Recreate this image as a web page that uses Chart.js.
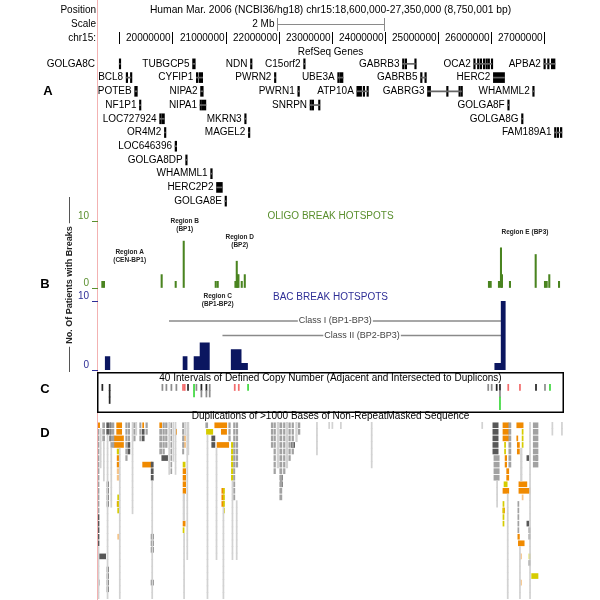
<!DOCTYPE html>
<html>
<head>
<meta charset="utf-8">
<title>chr15 breakpoint hotspots</title>
<script src="https://cdn.jsdelivr.net/npm/chart.js@4.4.0/dist/chart.umd.min.js"></script>
<style>
  html, body { margin: 0; padding: 0; background: #fff; }
  #wrap { position: relative; width: 600px; height: 600px; overflow: hidden; }
  #wrap canvas { position: absolute; left: 0; top: 0; }
  #labelLine { position: absolute; left: 97px; top: 0; width: 1px; height: 600px; background: #f3b2b2; }
</style>
</head>
<body>
<div id="wrap">
  <div id="labelLine"></div>
  <canvas id="genes" width="600" height="600"></canvas>
  <canvas id="oligo" width="600" height="600"></canvas>
  <canvas id="bac" width="600" height="600"></canvas>
  <canvas id="cnv" width="600" height="600"></canvas>
  <canvas id="dups" width="600" height="600"></canvas>
</div>
<script>
// --- 1. DATA (positions in Mb on chr15, hg18) ---
const viewStart = 18.6, viewEnd = 27.35;
const rulerTicks = [19, 20, 21, 22, 23, 24, 25, 26, 27];
const scaleBarMb = 2;

// RefSeq genes: one entry per label, row = packing line of the track
const geneNames = ['GOLGA8C', 'TUBGCP5', 'NDN', 'C15orf2', 'GABRB3', 'OCA2', 'APBA2',
  'BCL8', 'CYFIP1', 'PWRN2', 'UBE3A', 'GABRB5', 'HERC2',
  'POTEB', 'NIPA2', 'PWRN1', 'ATP10A', 'GABRG3', 'WHAMML2',
  'NF1P1', 'NIPA1', 'SNRPN', 'GOLGA8F',
  'LOC727924', 'MKRN3', 'GOLGA8G',
  'OR4M2', 'MAGEL2', 'FAM189A1',
  'LOC646396', 'GOLGA8DP', 'WHAMML1', 'HERC2P2', 'GOLGA8E'];
const geneRows = [0, 0, 0, 0, 0, 0, 0, 1, 1, 1, 1, 1, 1, 2, 2, 2, 2, 2, 2,
  3, 3, 3, 3, 4, 4, 4, 5, 5, 5, 6, 7, 8, 9, 10];
const geneStarts = [19.00, 20.38, 21.47, 22.47, 24.33, 25.67, 26.99,
  19.13, 20.45, 21.92, 23.11, 24.67, 26.04,
  19.29, 20.53, 22.36, 23.47, 24.80, 26.78,
  19.38, 20.52, 22.59, 26.31,
  19.76, 21.36, 26.57,
  19.85, 21.43, 27.19,
  20.05, 20.25, 20.72, 20.83, 20.99];
const geneEnds = [19.02, 20.43, 21.48, 22.48, 24.57, 26.01, 27.20,
  19.22, 20.57, 21.93, 23.21, 24.77, 26.25,
  19.34, 20.58, 22.39, 23.68, 25.44, 26.80,
  19.40, 20.63, 22.77, 26.33,
  19.85, 21.37, 26.59,
  19.86, 21.44, 27.33,
  20.08, 20.27, 20.75, 20.94, 21.01];
// exon blocks: [row, start, end]
const geneExons = [
  [0, 19.00, 19.02], [0, 20.38, 20.43], [0, 21.47, 21.48], [0, 22.47, 22.48],
  [0, 24.33, 24.36], [0, 24.38, 24.39], [0, 24.56, 24.57],
  [0, 25.67, 25.69], [0, 25.74, 25.76], [0, 25.79, 25.82], [0, 25.85, 25.88], [0, 25.90, 25.92], [0, 25.94, 25.96], [0, 26.00, 26.01],
  [0, 26.99, 27.00], [0, 27.06, 27.07], [0, 27.13, 27.20],
  [1, 19.13, 19.14], [1, 19.21, 19.22], [1, 20.45, 20.46], [1, 20.50, 20.57], [1, 21.92, 21.93],
  [1, 23.11, 23.12], [1, 23.15, 23.21], [1, 24.67, 24.69], [1, 24.75, 24.77], [1, 26.04, 26.25],
  [2, 19.29, 19.34], [2, 20.53, 20.58], [2, 22.36, 22.39], [2, 23.47, 23.56], [2, 23.59, 23.60], [2, 23.66, 23.68],
  [2, 24.80, 24.81], [2, 24.83, 24.84], [2, 25.16, 25.17], [2, 25.39, 25.40], [2, 25.43, 25.44], [2, 26.78, 26.80],
  [3, 19.38, 19.40], [3, 20.52, 20.53], [3, 20.56, 20.63], [3, 22.59, 22.60], [3, 22.63, 22.64], [3, 22.75, 22.77], [3, 26.31, 26.33],
  [4, 19.76, 19.78], [4, 19.80, 19.85], [4, 21.36, 21.37], [4, 26.57, 26.59],
  [5, 19.85, 19.86], [5, 21.43, 21.44], [5, 27.19, 27.21], [5, 27.24, 27.25], [5, 27.30, 27.33],
  [6, 20.05, 20.08], [7, 20.25, 20.27], [8, 20.72, 20.75], [9, 20.83, 20.94], [10, 20.99, 21.01]
];

// oligo array CGH: patients with a break at each probe position
const oligoPos = [18.682, 18.712, 19.798, 20.062, 20.213, 20.815, 20.853, 21.186, 21.211, 21.224, 21.243, 21.305, 21.362,
  25.957, 25.989, 26.145, 26.183, 26.202, 26.352, 26.836, 27.011, 27.043, 27.092, 27.275];
const oligoCount = [1, 1, 2, 1, 7, 1, 1, 1, 4, 2, 2, 1, 2,
  1, 1, 1, 6, 2, 1, 5, 1, 1, 2, 1];

// BAC array CGH: break counts per BAC interval
const bacStart = [18.73, 20.194, 20.401, 20.514, 21.10, 21.30, 26.06, 26.18];
const bacEnd = [18.83, 20.283, 20.514, 20.702, 21.30, 21.42, 26.18, 26.27];
const bacCount = [2, 2, 2, 4, 3, 1, 1, 10];

// deletion classes
const classNames = ['Class I (BP1-BP3)', 'Class II (BP2-BP3)'];
const classStart = [19.936, 20.942];
const classEnd = [26.196, 26.196];

// intervals of defined copy number: [start, end, rowFrom, rowTo, kind]
const cnvIntervals = [
  [18.672, 18.692, 0, 0, 'k'], [18.809, 18.829, 0, 2, 'k'],
  [19.802, 19.822, 0, 0, 'g'], [19.877, 19.897, 0, 0, 'g'], [19.971, 19.991, 0, 0, 'g'], [20.065, 20.085, 0, 0, 'g'],
  [20.190, 20.210, 0, 0, 'r'], [20.222, 20.242, 0, 0, 'r'], [20.284, 20.304, 0, 0, 'k'],
  [20.397, 20.417, 0, 1, 'n'], [20.442, 20.462, 0, 0, 'g'], [20.536, 20.556, 0, 0, 'k'], [20.536, 20.556, 1, 1, 'g'],
  [20.630, 20.650, 0, 0, 'k'], [20.630, 20.650, 1, 1, 'g'], [20.692, 20.712, 0, 1, 'g'],
  [21.163, 21.183, 0, 0, 'r'], [21.239, 21.259, 0, 0, 'r'], [21.414, 21.434, 0, 0, 'n'],
  [25.933, 25.953, 0, 0, 'g'], [25.998, 26.018, 0, 0, 'g'], [26.092, 26.112, 0, 0, 'k'],
  [26.154, 26.174, 0, 0, 'k'], [26.154, 26.174, 1, 1, 'g'], [26.154, 26.174, 2, 3, 'n'],
  [26.310, 26.330, 0, 0, 'r'], [26.530, 26.550, 0, 0, 'r'], [26.832, 26.852, 0, 0, 'k'],
  [27.001, 27.021, 0, 0, 'g'], [27.095, 27.115, 0, 0, 'n']
];

// segmental duplications, runs of stacked items: [start, end, rowFrom, rowTo, similarity class]
const dupRuns = [
  [18.600, 18.620, 1, 13, 'M'], [18.600, 18.620, 14, 18, 'D'], [18.600, 18.620, 19, 26, 'L'], [18.593, 18.744, 20, 20, 'D'],
  [18.600, 18.620, 24, 24, 'D'], [18.593, 18.631, 0, 0, 'O'],
  [18.687, 18.725, 0, 2, 'M'], [18.700, 18.720, 3, 8, 'L'], [18.640, 18.660, 1, 6, 'L'],
  [18.763, 18.800, 0, 1, 'D'], [18.770, 18.790, 2, 26, 'L'], [18.770, 18.800, 9, 12, 'D'], [18.770, 18.800, 22, 25, 'D'],
  [18.820, 18.835, 0, 2, 'D'], [18.840, 18.900, 0, 3, 'M'], [18.840, 18.860, 4, 12, 'L'],
  [18.951, 19.046, 0, 1, 'O'], [18.900, 19.080, 2, 3, 'O'], [18.960, 18.990, 4, 4, 'Y'], [18.960, 18.990, 5, 6, 'O'],
  [18.960, 18.990, 7, 8, 'P'], [18.970, 18.990, 11, 13, 'Y'], [18.960, 18.990, 12, 12, 'O'], [18.970, 18.990, 17, 17, 'P'],
  [19.000, 19.020, 4, 26, 'L'],
  [19.121, 19.150, 0, 5, 'M'], [19.170, 19.196, 0, 2, 'M'], [19.160, 19.200, 3, 4, 'D'], [19.240, 19.260, 0, 13, 'L'],
  [19.270, 19.300, 0, 2, 'M'], [19.310, 19.330, 0, 1, 'L'],
  [19.384, 19.410, 0, 2, 'M'], [19.430, 19.470, 1, 2, 'D'], [19.440, 19.460, 0, 0, 'O'], [19.440, 19.620, 6, 6, 'O'],
  [19.500, 19.530, 0, 1, 'M'],
  [19.600, 19.640, 6, 8, 'D'], [19.610, 19.630, 9, 26, 'L'], [19.600, 19.640, 17, 19, 'D'], [19.600, 19.640, 24, 24, 'D'],
  [19.761, 19.798, 0, 0, 'O'], [19.760, 19.800, 1, 4, 'M'], [19.800, 19.910, 5, 5, 'D'], [19.820, 19.850, 0, 4, 'M'],
  [19.870, 19.900, 0, 3, 'M'],
  [19.930, 19.945, 0, 7, 'L'], [19.970, 19.985, 0, 7, 'M'], [20.010, 20.025, 0, 5, 'L'], [20.050, 20.065, 0, 7, 'L'],
  [20.060, 20.080, 1, 1, 'O'],
  [20.190, 20.215, 0, 4, 'M'], [20.230, 20.250, 0, 1, 'L'], [20.290, 20.310, 0, 4, 'L'],
  [20.210, 20.250, 2, 3, 'P'], [20.200, 20.240, 6, 6, 'Y'], [20.200, 20.250, 7, 10, 'O'],
  [20.200, 20.230, 11, 14, 'L'], [20.200, 20.240, 15, 15, 'O'], [20.200, 20.220, 16, 16, 'Y'], [20.210, 20.230, 17, 26, 'L'],
  [20.270, 20.290, 0, 20, 'L'],
  [20.627, 20.665, 0, 0, 'M'], [20.640, 20.760, 1, 1, 'Y'], [20.740, 20.800, 2, 3, 'D'], [20.650, 20.670, 2, 26, 'L'],
  [20.797, 21.023, 0, 0, 'O'], [20.920, 21.020, 1, 1, 'O'], [20.840, 21.060, 3, 3, 'O'], [20.820, 20.840, 4, 20, 'L'],
  [20.930, 20.970, 10, 12, 'O'], [20.960, 20.980, 10, 13, 'Y'], [20.950, 20.970, 13, 26, 'L'],
  [21.060, 21.090, 0, 2, 'M'],
  [21.110, 21.140, 3, 8, 'Y'], [21.120, 21.140, 9, 20, 'L'], [21.150, 21.175, 0, 11, 'M'], [21.195, 21.230, 0, 6, 'M'],
  [21.200, 21.220, 12, 20, 'L'],
  [21.860, 21.890, 0, 3, 'M'], [21.910, 21.940, 0, 7, 'M'], [21.970, 22.000, 0, 6, 'L'], [22.020, 22.060, 0, 11, 'M'],
  [22.030, 22.070, 8, 9, 'D'], [22.090, 22.120, 0, 7, 'M'], [22.140, 22.170, 0, 6, 'L'], [22.190, 22.220, 0, 5, 'M'],
  [22.240, 22.300, 3, 3, 'D'], [22.250, 22.280, 0, 4, 'M'], [22.320, 22.350, 0, 2, 'L'], [22.370, 22.400, 0, 1, 'M'],
  [22.710, 22.730, 0, 4, 'L'], [22.940, 22.960, 0, 0, 'L'], [23.000, 23.020, 0, 0, 'L'], [23.160, 23.180, 0, 0, 'L'],
  [23.740, 23.760, 0, 6, 'L'], [25.820, 25.840, 0, 0, 'L'],
  [26.030, 26.130, 0, 4, 'D'], [26.050, 26.150, 5, 8, 'M'], [26.100, 26.120, 9, 12, 'L'],
  [26.220, 26.330, 0, 2, 'O'], [26.250, 26.270, 3, 4, 'Y'], [26.260, 26.290, 5, 6, 'O'], [26.290, 26.330, 7, 8, 'O'],
  [26.240, 26.300, 9, 9, 'Y'], [26.220, 26.330, 10, 10, 'O'], [26.220, 26.240, 12, 15, 'Y'], [26.220, 26.250, 13, 13, 'O'],
  [26.300, 26.320, 11, 26, 'L'], [26.330, 26.370, 0, 6, 'M'],
  [26.480, 26.600, 0, 0, 'O'], [26.480, 26.500, 2, 2, 'O'], [26.580, 26.600, 1, 3, 'Y'], [26.490, 26.530, 3, 4, 'O'],
  [26.550, 26.580, 4, 8, 'L'], [26.520, 26.670, 9, 9, 'O'], [26.520, 26.730, 10, 10, 'O'], [26.580, 26.600, 11, 11, 'P'],
  [26.500, 26.520, 12, 16, 'M'], [26.500, 26.530, 17, 17, 'O'], [26.510, 26.620, 18, 18, 'O'], [26.530, 26.550, 19, 26, 'L'],
  [26.550, 26.570, 20, 20, 'P'], [26.550, 26.570, 24, 24, 'P'],
  [26.670, 26.710, 5, 5, 'D'], [26.670, 26.710, 15, 15, 'D'], [26.710, 26.740, 16, 17, 'D'], [26.710, 26.740, 20, 20, 'Y'],
  [26.710, 26.740, 21, 21, 'D'], [26.760, 26.880, 23, 23, 'Y'], [26.720, 26.740, 0, 26, 'L'],
  [26.790, 26.880, 0, 6, 'M'], [26.840, 26.870, 5, 5, 'D'],
  [27.140, 27.160, 0, 1, 'L'], [27.320, 27.340, 0, 1, 'L']
];

// --- 2. SHARED SETUP ---
const FONT = "'Liberation Sans', Arial, Helvetica, sans-serif";
Chart.defaults.font.family = FONT;
Chart.defaults.font.size = 10;
Chart.defaults.color = '#000';

const OLIGO_TEXT = '#5a8f2e', OLIGO_BAR = '#4a8420';
const BAC_TEXT = '#2e2e96', BAC_BAR = '#0b1660';
const cnvColors = { k: '#262626', g: '#8c8c8c', r: '#f26b6b', n: '#3fd83f' };
const dupColors = { L: '#d2d2d2', M: '#a2a2a2', D: '#575757', P: '#f6c488', Y: '#d6cc00', O: '#f08a00' };

function xAxis() {
  return { type: 'linear', min: viewStart, max: viewEnd, offset: false, display: false, stacked: false };
}
function rowAxis(min, max) {
  return { type: 'linear', min, max, reverse: true, offset: false, display: false };
}
function countAxis(color) {
  return {
    type: 'linear', min: 0, max: 10, position: 'left',
    afterBuildTicks: s => { s.ticks = [{ value: 0 }, { value: 10 }]; },
    afterFit: s => { s.width = 98; },
    ticks: { color, font: { size: 10 }, padding: 3, labelOffset: -5 },
    grid: { drawOnChartArea: false, drawTicks: true, tickLength: 6, color },
    border: { display: false }
  };
}
function baseOptions(padding) {
  return {
    responsive: false, animation: false, events: [],
    layout: { padding },
    plugins: { legend: { display: false }, tooltip: { enabled: false } }
  };
}
function text(ctx, str, x, y, align, font, color) {
  ctx.font = font; ctx.textAlign = align; ctx.textBaseline = 'middle'; ctx.fillStyle = color;
  ctx.fillText(str, x, y);
}
const fmt = v => Math.round(v).toLocaleString('en-US');

// --- 3. HEADER + REFSEQ GENES ---
const headerPlugin = {
  id: 'header',
  afterDraw(chart) {
    const ctx = chart.ctx, xs = chart.scales.x, ys = chart.scales.y;
    const f = '10px ' + FONT;
    const mid = (xs.left + xs.right) / 2;
    ctx.save();
    text(ctx, 'Position', 96, 10, 'right', f, '#000');
    text(ctx, 'Scale', 96, 24, 'right', f, '#000');
    text(ctx, 'chr15:', 96, 38, 'right', f, '#000');
    const pos = 'Human Mar. 2006 (NCBI36/hg18) chr15:' + fmt(viewStart * 1e6) + '-' + fmt(viewEnd * 1e6) +
      ' (' + fmt((viewEnd - viewStart) * 1e6 + 1) + ' bp)';
    text(ctx, pos, mid, 10, 'center', '10.3px ' + FONT, '#000');
    text(ctx, 'RefSeq Genes', mid, 52, 'center', f, '#000');

    // scale bar
    const c = (viewStart + viewEnd) / 2;
    const b0 = Math.round(xs.getPixelForValue(c - scaleBarMb / 2)) + 0.5;
    const b1 = Math.round(xs.getPixelForValue(c + scaleBarMb / 2)) + 0.5;
    ctx.strokeStyle = '#8a8a8a'; ctx.lineWidth = 1;
    ctx.beginPath();
    ctx.moveTo(b0, 24.5); ctx.lineTo(b1, 24.5);
    ctx.moveTo(b0, 18); ctx.lineTo(b0, 31);
    ctx.moveTo(b1, 18); ctx.lineTo(b1, 31);
    ctx.stroke();
    text(ctx, scaleBarMb + ' Mb', b0 - 3, 24, 'right', f, '#000');

    // base position ruler
    ctx.strokeStyle = '#000';
    rulerTicks.forEach(t => {
      const px = Math.round(xs.getPixelForValue(t)) + 0.5;
      ctx.beginPath(); ctx.moveTo(px, 32); ctx.lineTo(px, 44); ctx.stroke();
      const lab = String(Math.round(t * 1e6));
      ctx.font = f;
      if (px - 2 - ctx.measureText(lab).width > xs.left) text(ctx, lab, px - 2, 38, 'right', f, '#000');
    });

    // gene labels, pushed into the label column when they do not fit
    ctx.font = f;
    geneNames.forEach((name, i) => {
      const px = xs.getPixelForValue(geneStarts[i]);
      const py = ys.getPixelForValue(geneRows[i]);
      const w = ctx.measureText(name).width;
      const right = (px - 3 - w < xs.left - 3) ? 95 : px - 3;
      text(ctx, name, right, py, 'right', f, '#000');
    });

    // panel letters
    const bf = 'bold 13px ' + FONT;
    text(ctx, 'A', 48, 91, 'center', bf, '#000');
    text(ctx, 'B', 45, 284, 'center', bf, '#000');
    text(ctx, 'C', 45, 389, 'center', bf, '#000');
    text(ctx, 'D', 45, 433, 'center', bf, '#000');

    // shared y title for the two break tracks
    const tf = 'bold 9px ' + FONT, title = 'No. Of Patients with Breaks', cy = 285;
    ctx.font = tf;
    const tw = ctx.measureText(title).width;
    ctx.strokeStyle = '#555'; ctx.lineWidth = 1;
    ctx.beginPath();
    ctx.moveTo(69.5, 197); ctx.lineTo(69.5, cy - tw / 2 - 3);
    ctx.moveTo(69.5, cy + tw / 2 + 3); ctx.lineTo(69.5, 372);
    ctx.stroke();
    ctx.translate(70, cy); ctx.rotate(-Math.PI / 2);
    text(ctx, title, 0, 0, 'center', tf, '#222');
    ctx.restore();
  }
};

new Chart(document.getElementById('genes'), {
  type: 'bar',
  data: {
    datasets: [
      { data: geneNames.map((n, i) => ({ x: [geneStarts[i], geneEnds[i]], y: geneRows[i] })),
        backgroundColor: '#666', barThickness: 1, minBarLength: 1, stack: 's' },
      { data: geneExons.map(e => ({ x: [e[1], e[2]], y: e[0] })),
        backgroundColor: '#000', barThickness: 10, minBarLength: 1.5, stack: 's' }
    ]
  },
  options: Object.assign(baseOptions({ left: 98, right: 37, top: 57, bottom: 392 }), {
    indexAxis: 'y',
    scales: { x: xAxis(), y: rowAxis(-0.5, 10.5) }
  }),
  plugins: [headerPlugin]
});

// --- 4. OLIGO BREAK HOTSPOTS ---
const regionLabels = [
  { at: 19.196, lines: ['Region A', '(CEN-BP1)'], y: 252 },
  { at: 20.232, lines: ['Region B', '(BP1)'], y: 221 },
  { at: 20.853, lines: ['Region C', '(BP1-BP2)'], y: 296 },
  { at: 21.267, lines: ['Region D', '(BP2)'], y: 237 },
  { at: 26.635, lines: ['Region E (BP3)'], y: 232 }
];
const oligoPlugin = {
  id: 'oligoText',
  afterDraw(chart) {
    const ctx = chart.ctx, xs = chart.scales.x;
    ctx.save();
    text(ctx, 'OLIGO BREAK HOTSPOTS', (xs.left + xs.right) / 2, 216, 'center', '10px ' + FONT, OLIGO_TEXT);
    regionLabels.forEach(r => {
      r.lines.forEach((l, j) => text(ctx, l, xs.getPixelForValue(r.at), r.y + j * 8, 'center', 'bold 6.5px ' + FONT, '#222'));
    });
    ctx.restore();
  }
};
new Chart(document.getElementById('oligo'), {
  type: 'bar',
  data: {
    datasets: [{ data: oligoPos.map((p, i) => ({ x: p, y: oligoCount[i] })),
      backgroundColor: OLIGO_BAR, barThickness: 1.4 }]
  },
  options: Object.assign(baseOptions({ left: 0, right: 37, top: 221, bottom: 312 }), {
    scales: { x: xAxis(), y: countAxis(OLIGO_TEXT) }
  }),
  plugins: [oligoPlugin]
});

// --- 5. BAC BREAK HOTSPOTS ---
const bacSteps = [{ x: viewStart, y: 0 }];
bacStart.forEach((s, i) => { bacSteps.push({ x: s, y: bacCount[i] }, { x: bacEnd[i], y: 0 }); });
bacSteps.push({ x: viewEnd, y: 0 });
const classLevels = [7.1, 5.0];

const bacPlugin = {
  id: 'bacText',
  afterDraw(chart) {
    const ctx = chart.ctx, xs = chart.scales.x, ys = chart.scales.y;
    ctx.save();
    text(ctx, 'BAC BREAK HOTSPOTS', (xs.left + xs.right) / 2, 297, 'center', '10px ' + FONT, BAC_TEXT);
    const f = '9px ' + FONT;
    ctx.font = f;
    classNames.forEach((name, i) => {
      const cx = (xs.getPixelForValue(classStart[i]) + xs.getPixelForValue(classEnd[i])) / 2;
      const cy = ys.getPixelForValue(classLevels[i]);
      const w = ctx.measureText(name).width;
      ctx.fillStyle = '#fff';
      ctx.fillRect(cx - w / 2 - 1, cy - 5, w + 2, 10);
      text(ctx, name, cx, cy, 'center', f, '#444');
    });
    ctx.restore();
  }
};
new Chart(document.getElementById('bac'), {
  type: 'line',
  data: {
    datasets: [
      { data: bacSteps, stepped: true, fill: 'origin', backgroundColor: BAC_BAR,
        borderColor: 'rgba(0,0,0,0)', borderWidth: 1, pointRadius: 0 },
      ...classNames.map((n, i) => ({
        data: [{ x: classStart[i], y: classLevels[i] }, { x: classEnd[i], y: classLevels[i] }],
        borderColor: '#8a8a8a', borderWidth: 1.5, pointRadius: 0, fill: false
      }))
    ]
  },
  options: Object.assign(baseOptions({ left: 0, right: 37, top: 301, bottom: 230 }), {
    scales: { x: xAxis(), y: countAxis(BAC_TEXT) }
  }),
  plugins: [bacPlugin]
});

// --- 6. C: INTERVALS OF DEFINED COPY NUMBER ---
const cnvBars = [];
cnvIntervals.forEach(r => { for (let row = r[2]; row <= r[3]; row++) cnvBars.push({ x: [r[0], r[1]], y: row, k: r[4] }); });
const cnvPlugin = {
  id: 'cnvBox',
  afterDraw(chart) {
    const ctx = chart.ctx, xs = chart.scales.x;
    ctx.save();
    ctx.strokeStyle = '#000'; ctx.lineWidth = 1.5;
    ctx.strokeRect(xs.left - 0.25, 372.75, xs.right - xs.left + 0.5, 39.5);
    text(ctx, '40 Intervals of Defined Copy Number (Adjacent and Intersected to Duplicons)',
      (xs.left + xs.right) / 2, 378.5, 'center', '10px ' + FONT, '#000');
    ctx.restore();
  }
};
new Chart(document.getElementById('cnv'), {
  type: 'bar',
  data: {
    datasets: [{ data: cnvBars, backgroundColor: cnvBars.map(b => cnvColors[b.k]),
      barThickness: 6.5, minBarLength: 1, stack: 's' }]
  },
  options: Object.assign(baseOptions({ left: 98, right: 37, top: 384, bottom: 190 }), {
    indexAxis: 'y',
    scales: { x: xAxis(), y: rowAxis(-0.5, 3.5) }
  }),
  plugins: [cnvPlugin]
});

// --- 7. D: SEGMENTAL DUPLICATIONS ---
const dupOrder = ['L', 'M', 'D', 'P', 'Y', 'O'];
const dupPlugin = {
  id: 'dupTitle',
  afterDraw(chart) {
    const ctx = chart.ctx, xs = chart.scales.x;
    ctx.save();
    text(ctx, 'Duplications of >1000 Bases of Non-RepeatMasked Sequence', (xs.left + xs.right) / 2, 416,
      'center', '10px ' + FONT, '#000');
    ctx.restore();
  }
};
new Chart(document.getElementById('dups'), {
  type: 'bar',
  data: {
    datasets: dupOrder.map(k => {
      const bars = [];
      dupRuns.filter(r => r[4] === k).forEach(r => {
        for (let row = r[2]; row <= r[3]; row++) bars.push({ x: [r[0], r[1]], y: row });
      });
      return { data: bars, backgroundColor: dupColors[k], barThickness: k === 'L' ? 6.6 : 5,
        minBarLength: 1, stack: 's' };
    })
  },
  options: Object.assign(baseOptions({ left: 98, right: 37, top: 422, bottom: 1 }), {
    indexAxis: 'y',
    scales: { x: xAxis(), y: rowAxis(-0.5, 26.5) }
  }),
  plugins: [dupPlugin]
});
</script>
</body>
</html>
